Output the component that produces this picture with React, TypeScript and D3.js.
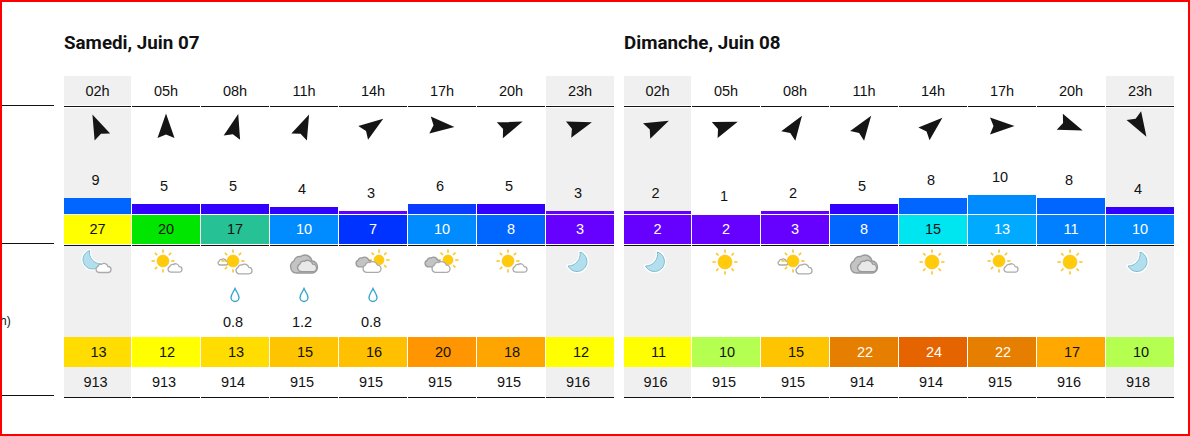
import * as d3 from 'd3';

const hours = ['02h', '05h', '08h', '11h', '14h', '17h', '20h', '23h'];

const sat = {
  title: 'Samedi, Juin 07',
  windDir: [-24, 0, 15, 24, 55, 95, 69, 72],
  wind: [9, 5, 5, 4, 3, 6, 5, 3],
  gust: [27, 20, 17, 10, 7, 10, 8, 3],
  sky: ['moonCloud', 'sunCloud', 'sunClouds', 'overcast', 'cloudSun', 'cloudSun', 'sunCloud', 'moon'],
  rain: [null, null, 0.8, 1.2, 0.8, null, null, null],
  temp: [13, 12, 13, 15, 16, 20, 18, 12],
  pressure: [913, 913, 914, 915, 915, 915, 915, 916],
};

const sun = {
  title: 'Dimanche, Juin 08',
  windDir: [65, 70, 34, 35, 49, 90, 111, 149],
  wind: [2, 1, 2, 5, 8, 10, 8, 4],
  gust: [2, 2, 3, 8, 15, 13, 11, 10],
  sky: ['moon', 'sun', 'sunClouds', 'overcast', 'sun', 'sunCloud', 'sun', 'moon'],
  rain: [null, null, null, null, null, null, null, null],
  temp: [11, 10, 15, 22, 24, 22, 17, 10],
  pressure: [916, 915, 915, 914, 914, 915, 916, 918],
};

// colour legends of the site
const windValues = [1, 2, 3, 4, 5, 6, 8, 9, 10];
const windColors = ['#6000ff', '#6000ff', '#6000ff', '#3300ff', '#3300ff', '#0a3cff', '#0066ff', '#0066ff', '#008cff'];
const gustValues = [2, 3, 7, 8, 10, 11, 13, 15, 17, 20, 27];
const gustColors = ['#6600ff', '#6600ff', '#0033ff', '#0066ff', '#008cff', '#0080ff', '#00aaff', '#00e6f0', '#26c295', '#00e600', '#ffff00'];
const tempValues = [10, 11, 12, 13, 15, 16, 17, 18, 20, 22, 24];
const tempColors = ['#b4ff50', '#ffff00', '#ffff00', '#ffdd00', '#ffc400', '#ffc000', '#ffa800', '#ffa500', '#ff9500', '#e67e00', '#e66400'];

const windColor = d3.scaleOrdinal<number, string>().domain(windValues).range(windColors);
const gustColor = d3.scaleOrdinal<number, string>().domain(gustValues).range(gustColors);
const tempColor = d3.scaleOrdinal<number, string>().domain(tempValues).range(tempColors);
// the bars grow in steps, not continuously
const windHeight = d3.scaleThreshold<number, number>().domain([2, 4, 5, 7, 10]).range([0, 3, 7, 10, 16, 19]);

const GREY = '#f0f0f0';
const INK = '#111';
const FONT = '"Liberation Sans", Arial, sans-serif';
const CLOUD = 'M-6,6 A4.2,4.2 0 0 1 -7.5,-2 A4.5,4.5 0 0 1 -2.5,-5 A5.5,5.5 0 0 1 6,-2 A4,4 0 0 1 6,6 Z';

function Cloud({ x, y, w, fill, stroke, tall = 1 }: any) {
  const k = w / 20;
  return (
    <path
      d={CLOUD}
      transform={`translate(${x},${y}) scale(${k},${k * tall})`}
      fill={fill}
      stroke={stroke}
      strokeWidth={1.3 / k}
    />
  );
}

function Sun({ x, y, r }: any) {
  return (
    <g transform={`translate(${x},${y})`}>
      {d3.range(8).map(i => (
        <line
          key={i}
          transform={`rotate(${i * 45})`}
          y1={-r - 2.2}
          y2={-r - 5.5}
          stroke="#fcc934"
          strokeWidth={1.7}
        />
      ))}
      <circle r={r} fill="#ffcb0a" stroke="#f9bd1a" strokeWidth={0.6} />
    </g>
  );
}

function Moon({ x, y, k = 1, flip = false }: any) {
  const d = 'M2,-10 A10,10 0 1 1 -10,4 A12,12 0 0 0 2,-10 Z';
  return (
    <g transform={`translate(${x},${y}) scale(${flip ? -k : k},${k})`}>
      <path d={d} fill="#fff" stroke="#fff" strokeWidth={3.5} strokeLinejoin="round" />
      <path d={d} fill="#b3deee" stroke="#7dbdd0" strokeWidth={1} />
    </g>
  );
}

function Sky({ kind, cx }: any) {
  if (kind === 'moon') return <Moon x={cx - 2} y={262} />;
  if (kind === 'moonCloud') {
    return (
      <g>
        <Moon x={cx - 6} y={260} k={0.95} flip />
        <Cloud x={cx + 6} y={268} w={15} fill="#fff" stroke="#aaa" />
      </g>
    );
  }
  if (kind === 'sun') return <Sun x={cx - 1} y={262} r={7} />;
  if (kind === 'sunCloud') {
    return (
      <g>
        <Sun x={cx - 3} y={261} r={6} />
        <Cloud x={cx + 9} y={268} w={14} fill="#fff" stroke="#aaa" />
      </g>
    );
  }
  if (kind === 'sunClouds') {
    return (
      <g>
        <Cloud x={cx - 12} y={262} w={10} fill="#fff" stroke="#aaa" />
        <Sun x={cx - 2} y={261} r={6} />
        <Cloud x={cx + 9} y={269} w={16} fill="#fff" stroke="#aaa" />
      </g>
    );
  }
  if (kind === 'overcast') {
    return (
      <g>
        <Cloud x={cx} y={264} w={27} tall={1.1} fill="#c4c4c4" stroke="#999" />
        <Cloud x={cx + 3} y={266} w={19} fill="#e8e8e8" stroke="#999" />
      </g>
    );
  }
  return (
    <g>
      <Sun x={cx + 6} y={260} r={5} />
      <Cloud x={cx - 9} y={262} w={16} fill="#c4c4c4" stroke="#999" />
      <Cloud x={cx - 1} y={267} w={18} fill="#fff" stroke="#aaa" />
    </g>
  );
}

function Day({ day, left }: any) {
  const x = d3.scaleBand<string>().domain(hours).range([left, left + 550]).paddingInner(0.02);
  const start = (h: string) => Math.floor(x(h)!);
  const width = (h: string) => Math.floor(x(h)! + x.bandwidth()) - start(h);
  const mid = (h: string) => start(h) + width(h) / 2;
  const label = { fontFamily: FONT, fontSize: 14.5, textAnchor: 'middle' as const };

  return (
    <g>
      <text
        x={left}
        y={49}
        fontFamily="Roboto, sans-serif"
        fontWeight={700}
        fontSize={18.8}
        fill={INK}
      >
        {day.title}
      </text>
      {hours.map((h, i) => {
        const grey = i === 0 || i === 7;
        const barH = windHeight(day.wind[i]);
        const barTop = 214 - barH;
        const rain = day.rain[i];
        return (
          <g key={h}>
            {grey && (
              <g fill={GREY}>
                <rect x={start(h)} y={76} width={width(h)} height={29} />
                <rect x={start(h)} y={108} width={width(h)} height={107} />
                <rect x={start(h)} y={246} width={width(h)} height={91} />
                <rect x={start(h)} y={367} width={width(h)} height={30} />
              </g>
            )}
            <text {...label} x={mid(h)} y={96} fill={INK}>{h}</text>
            <rect x={start(h)} y={106} width={width(h)} height={1} fill={INK} />

            <path
              d="M0,-12.5 L8.5,12 L0,8.5 L-8.5,12 Z"
              transform={`translate(${mid(h)},126) rotate(${day.windDir[i]})`}
              fill="#151515"
            />

            <text {...label} x={mid(h) - 2} y={barTop - 13} fill={INK}>{day.wind[i]}</text>
            {barH > 0 && (
              <rect x={start(h)} y={barTop} width={width(h)} height={barH} fill={windColor(day.wind[i])} />
            )}

            <rect x={start(h)} y={215} width={width(h)} height={29} fill={gustColor(day.gust[i])} />
            <text {...label} x={mid(h)} y={234} fill={day.gust[i] <= 13 ? '#fff' : INK}>{day.gust[i]}</text>
            <rect x={start(h)} y={245} width={width(h)} height={1} fill={INK} />

            <Sky kind={day.sky[i]} cx={mid(h)} />

            {rain != null && (
              <g>
                <path
                  d="M0,-6.5 C1.5,-3 4,-0.5 4,2.5 A4,4 0 0 1 -4,2.5 C-4,-0.5 -1.5,-3 0,-6.5 Z"
                  transform={`translate(${mid(h)},295)`}
                  fill="#fff"
                  stroke="#38a6cc"
                  strokeWidth={1.4}
                />
                <text {...label} x={mid(h) - 2} y={327} fill={INK}>{d3.format('.1f')(rain)}</text>
              </g>
            )}

            <rect x={start(h)} y={337} width={width(h)} height={30} fill={tempColor(day.temp[i])} />
            <text {...label} x={mid(h) + 1} y={357} fill={day.temp[i] >= 22 ? '#fff' : INK}>{day.temp[i]}</text>

            <text {...label} x={mid(h) - 2} y={387} fill={INK}>{day.pressure[i]}</text>
            <rect x={start(h)} y={397} width={width(h)} height={1} fill={INK} />
          </g>
        );
      })}
    </g>
  );
}

export default function App() {
  const ruleY = [105, 243, 395];
  return (
    <svg
      width={1190}
      height={436}
      style={{ position: 'fixed', top: 0, left: 0, background: '#fff' }}
    >
      {ruleY.map(y => (
        <rect key={y} x={2} y={y} width={52} height={1} fill={INK} />
      ))}
      <text x={0} y={325} fontFamily={FONT} fontSize={12} fill={INK}>h)</text>
      <Day day={sat} left={64} />
      <Day day={sun} left={624} />
      <rect x={1} y={1} width={1188} height={434} fill="none" stroke="#ff0000" strokeWidth={2} />
    </svg>
  );
}
